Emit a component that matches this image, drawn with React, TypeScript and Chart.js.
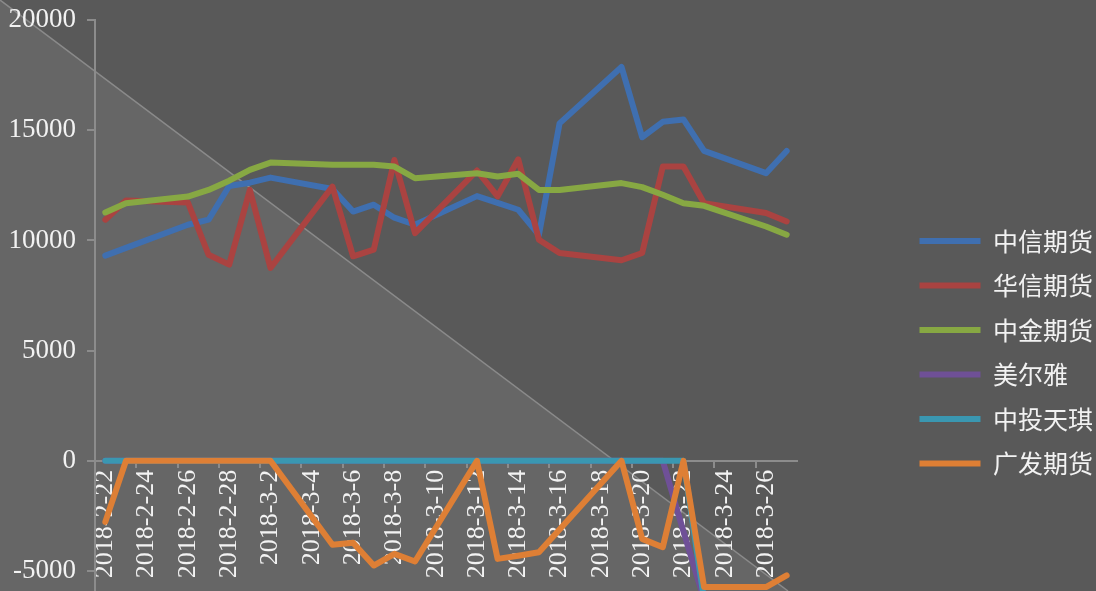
import React, { useEffect, useRef } from 'react';
import { Chart, registerables } from 'chart.js';

Chart.register(...registerables);

// Every calendar day on the date axis (tick labels shown every 2 days)
const allDays = [
  '2018-2-22', '2018-2-23', '2018-2-24', '2018-2-25', '2018-2-26', '2018-2-27', '2018-2-28',
  '2018-3-1', '2018-3-2', '2018-3-3', '2018-3-4', '2018-3-5', '2018-3-6', '2018-3-7',
  '2018-3-8', '2018-3-9', '2018-3-10', '2018-3-11', '2018-3-12', '2018-3-13', '2018-3-14',
  '2018-3-15', '2018-3-16', '2018-3-17', '2018-3-18', '2018-3-19', '2018-3-20', '2018-3-21',
  '2018-3-22', '2018-3-23', '2018-3-24', '2018-3-25', '2018-3-26', '2018-3-27',
];

// Trading days that carry data
const tradingDays = [
  '2018-2-22', '2018-2-23', '2018-2-26', '2018-2-27', '2018-2-28', '2018-3-1', '2018-3-2',
  '2018-3-5', '2018-3-6', '2018-3-7', '2018-3-8', '2018-3-9',
  '2018-3-12', '2018-3-13', '2018-3-14', '2018-3-15', '2018-3-16',
  '2018-3-19', '2018-3-20', '2018-3-21', '2018-3-22', '2018-3-23',
  '2018-3-26', '2018-3-27',
];

const seriesNames = ['中信期货', '华信期货', '中金期货', '美尔雅', '中投天琪', '广发期货'];

const zhongxin = [9310, 9660, 10710, 10940, 12470, 12620, 12850, 12330, 11310, 11620, 11030, 10710,
  12010, 11700, 11390, 10250, 15310, 17870, 14680, 15380, 15490, 14060, 13050, 14060];
const huaxin = [10940, 11810, 11720, 9350, 8900, 12290, 8750, 12440, 9280, 9580, 13650, 10330,
  13170, 12000, 13680, 10030, 9430, 9100, 9430, 13350, 13350, 11690, 11240, 10860];
const zhongjin = [11270, 11690, 11990, 12290, 12710, 13200, 13530, 13430, 13430, 13430, 13350, 12820,
  13050, 12900, 13020, 12290, 12290, 12600, 12420, 12070, 11690, 11570, 10630, 10260];
const meierya = [0, 0, 0, 0, 0, 0, 0, 0, 0, 0, 0, 0,
  0, 0, 0, 0, 0, 0, 0, 0, -3200, -6300, -6300, -6300];
const zhongtou = [0, 0, 0, 0, 0, 0, 0, 0, 0, 0, 0, 0,
  0, 0, 0, 0, 0, 0, 0, 0, 0, -6300, -6300, -6300];
const guangfa = [-2770, 0, 0, 0, 0, 0, 0, -3810, -3720, -4750, -4220, -4570,
  0, -4450, -4310, -4150, -3120, 0, -3540, -3920, 0, -5730, -5730, -5200];

const seriesValues = [zhongxin, huaxin, zhongjin, meierya, zhongtou, guangfa];
const seriesColors = ['#3F6FB0', '#AA4341', '#87A843', '#6F5097', '#3A97B1', '#DE7F35'];

const yTicks = [-5000, 0, 5000, 10000, 15000, 20000];

const AXIS_GRAY = '#8c8c8c';
const TEXT = '#f2f2f2';
const CJK_FONT = "'Noto Sans CJK SC', sans-serif";
const SERIF_FONT = "'Liberation Serif', serif";

export default function App() {
  const ref = useRef<HTMLCanvasElement>(null);

  useEffect(() => {
    document.body.style.margin = '0';
    let chart: Chart | null = null;
    let cancelled = false;

    const bgPlugin = {
      id: 'bgDecor',
      beforeDraw(c: any) {
        const { ctx, width, height } = c;
        ctx.save();
        ctx.fillStyle = '#595959';
        ctx.fillRect(0, 0, width, height);
        const bx = width * 0.719;
        ctx.fillStyle = '#666666';
        ctx.beginPath();
        ctx.moveTo(0, 0);
        ctx.lineTo(0, height);
        ctx.lineTo(bx, height);
        ctx.closePath();
        ctx.fill();
        ctx.strokeStyle = '#8a8a8a';
        ctx.lineWidth = 1.5;
        ctx.beginPath();
        ctx.moveTo(0, 0);
        ctx.lineTo(bx, height);
        ctx.stroke();
        ctx.restore();
      },
    };

    const build = () => {
      const canvas = ref.current;
      if (!canvas || cancelled) return;
      const datasets = seriesNames.map((name, si) => ({
        label: name,
        data: tradingDays.map((d, i) => ({ x: d, y: seriesValues[si][i] })),
        borderColor: seriesColors[si],
        backgroundColor: seriesColors[si],
        borderWidth: 6,
        borderCapStyle: 'round' as const,
        borderJoinStyle: 'round' as const,
        pointRadius: 0,
        pointHoverRadius: 0,
        tension: 0,
        fill: false,
        clip: false as const,
        order: seriesNames.length - si,
        yAxisID: 'y',
        xAxisID: 'x',
      }));

      chart = new Chart(canvas, {
        type: 'line',
        data: { labels: allDays, datasets },
        plugins: [bgPlugin],
        options: {
          animation: false,
          responsive: false,
          events: [],
          layout: { padding: { top: 20, right: -7, bottom: 0, left: 0 } },
          plugins: {
            tooltip: { enabled: false },
            legend: {
              position: 'right',
              maxWidth: 260,
              title: {
                display: true,
                text: '',
                font: { size: 10, lineHeight: 1 },
                padding: { top: 83.5, bottom: 0 },
              },
              labels: {
                usePointStyle: true,
                pointStyle: 'line',
                pointStyleWidth: 61,
                padding: 19.5,
                color: TEXT,
                font: { family: CJK_FONT, size: 25 },
                sort: (a: any, b: any) => a.datasetIndex - b.datasetIndex,
              },
            },
          },
          scales: {
            x: {
              type: 'category',
              labels: allDays,
              offset: true,
              position: { y: 0 } as any,
              grid: {
                display: true,
                drawOnChartArea: false,
                offset: true,
                tickLength: 6,
                lineWidth: 2,
                color: AXIS_GRAY,
                tickColor: (c: any) =>
                  typeof c.index === 'number' && c.index % 2 === 0 ? AXIS_GRAY : 'rgba(0,0,0,0)',
              },
              border: { display: true, color: AXIS_GRAY, width: 2 },
              ticks: {
                autoSkip: false,
                minRotation: 90,
                maxRotation: 90,
                padding: 3,
                color: TEXT,
                font: { family: SERIF_FONT, size: 26 },
                callback: (_v: any, i: number) => (i % 2 === 0 ? allDays[i] : ''),
              },
            },
            y: {
              type: 'linear',
              position: 'left',
              min: -5900,
              max: 20000,
              afterBuildTicks: (s: any) => {
                s.ticks = yTicks.map((v) => ({ value: v }));
              },
              afterFit: (s: any) => {
                s.width = 95;
              },
              grid: {
                display: true,
                drawOnChartArea: false,
                tickLength: 19,
                tickBorderDash: [0, 11, 8, 50],
                lineWidth: 2,
                color: AXIS_GRAY,
              },
              border: { display: true, color: AXIS_GRAY, width: 2 },
              ticks: {
                padding: 0,
                color: TEXT,
                font: { family: SERIF_FONT, size: 27, lineHeight: 0.01 },
                callback: (v: any) => String(v),
              },
            },
            y2: {
              type: 'linear',
              position: 'right',
              display: true,
              grid: { display: false },
              border: { display: false },
              ticks: { display: false },
              afterFit: (s: any) => {
                s.width = 103;
              },
            },
          },
        },
      });
    };

    const fontsApi = (document as any).fonts;
    if (fontsApi && fontsApi.load) {
      Promise.all([
        fontsApi.load("25px 'Noto Sans CJK SC'", '中信期货华金美尔雅投天琪广发'),
        fontsApi.load("26px 'Liberation Serif'", '2018-3-26'),
      ])
        .catch(() => undefined)
        .then(() => build());
    } else {
      build();
    }

    return () => {
      cancelled = true;
      if (chart) chart.destroy();
    };
  }, []);

  return (
    <div style={{ width: 1096, height: 591, position: 'relative' }}>
      <canvas ref={ref} width={1096} height={591} style={{ display: 'block' }} />
    </div>
  );
}
